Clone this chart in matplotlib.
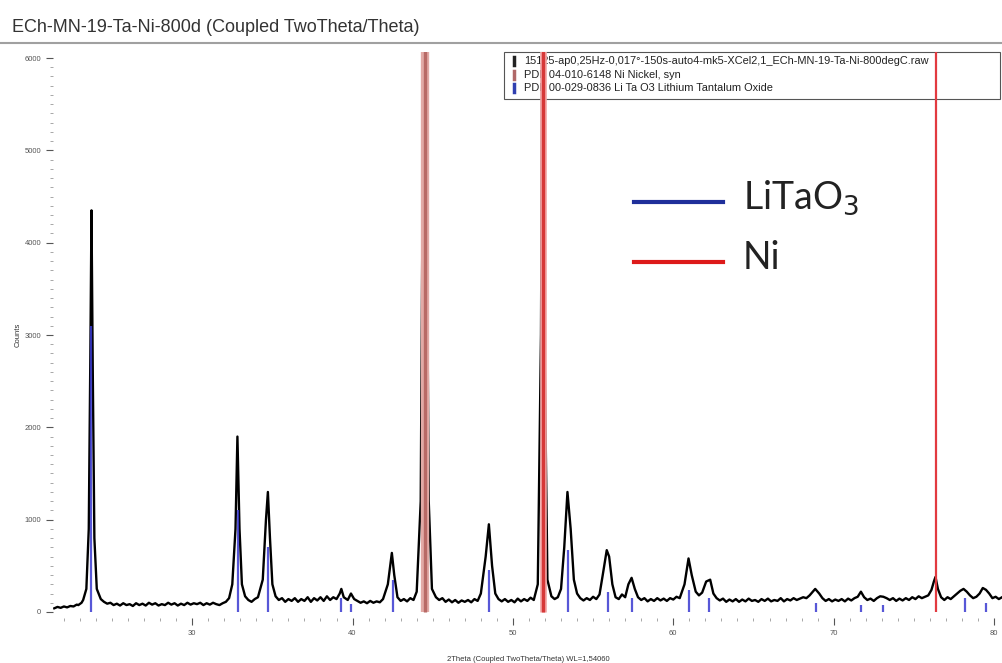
import matplotlib
matplotlib.use("Agg")
import matplotlib.pyplot as plt
from matplotlib.patches import Rectangle
from matplotlib.ticker import MultipleLocator

two_theta = [21.4, 21.6, 21.8, 22.0, 22.2, 22.4, 22.6, 22.8, 22.9, 23.1, 23.2, 23.4, 23.55, 23.65, 23.72,
             23.8, 23.9, 24.05, 24.3, 24.5, 24.7, 24.9, 25.1, 25.3, 25.5, 25.7, 25.9, 26.1, 26.3,
             26.5, 26.7, 26.9, 27.1, 27.3, 27.5, 27.7, 27.9, 28.1, 28.3, 28.5, 28.7, 28.9, 29.1,
             29.3, 29.5, 29.7, 29.9, 30.1, 30.3, 30.5, 30.7, 30.9, 31.1, 31.3, 31.5, 31.7, 31.9,
             32.1, 32.3, 32.5, 32.7, 32.82, 32.95, 33.1, 33.3, 33.5, 33.7, 33.9, 34.1, 34.4,
             34.6, 34.72, 34.85, 35.0, 35.2, 35.4, 35.6, 35.8, 36.0, 36.2, 36.4, 36.6, 36.8,
             37.0, 37.2, 37.4, 37.6, 37.8, 38.0, 38.2, 38.4, 38.6, 38.8, 39.0, 39.2, 39.3,
             39.45, 39.7, 39.9, 40.1, 40.3, 40.5, 40.7, 40.9, 41.1, 41.3, 41.5, 41.7, 41.9,
             42.2, 42.45, 42.6, 42.8, 43.0, 43.2, 43.4, 43.6, 43.8, 44.0, 44.25, 44.4, 44.5,
             44.6, 44.75, 44.95, 45.2, 45.4, 45.6, 45.8, 46.0, 46.2, 46.4, 46.6, 46.8, 47.0,
             47.2, 47.4, 47.6, 47.8, 48.0, 48.3, 48.5, 48.7, 48.9, 49.1, 49.3, 49.5, 49.7,
             49.9, 50.1, 50.3, 50.5, 50.7, 50.9, 51.1, 51.3, 51.55, 51.75, 51.85, 51.95, 52.15,
             52.4, 52.6, 52.8, 53.0, 53.2, 53.4, 53.6, 53.8, 54.0, 54.2, 54.4, 54.6, 54.8,
             55.0, 55.2, 55.4, 55.6, 55.85, 56.0, 56.2, 56.4, 56.6, 56.8, 57.0, 57.2, 57.4,
             57.6, 57.8, 58.0, 58.2, 58.4, 58.6, 58.8, 59.0, 59.2, 59.4, 59.6, 59.8, 60.0,
             60.2, 60.4, 60.7, 60.95, 61.15, 61.4, 61.6, 61.8, 62.05, 62.3, 62.5, 62.7, 62.9,
             63.1, 63.3, 63.5, 63.7, 63.9, 64.1, 64.3, 64.5, 64.7, 64.9, 65.1, 65.3, 65.5,
             65.7, 65.9, 66.1, 66.3, 66.5, 66.7, 66.9, 67.1, 67.3, 67.5, 67.7, 67.9, 68.1,
             68.3, 68.5, 68.85, 69.1, 69.3, 69.5, 69.7, 69.9, 70.1, 70.3, 70.5, 70.7, 70.9,
             71.1, 71.3, 71.5, 71.7, 71.9, 72.1, 72.3, 72.5, 72.7, 72.9, 73.1, 73.3, 73.5,
             73.7, 73.9, 74.1, 74.3, 74.5, 74.7, 74.9, 75.1, 75.3, 75.5, 75.7, 75.9, 76.1,
             76.25, 76.35, 76.5, 76.7, 76.9, 77.1, 77.3, 77.5, 77.7, 77.9, 78.1, 78.3, 78.5,
             78.7, 78.9, 79.1, 79.3, 79.5, 79.7, 79.9, 80.1, 80.3, 80.5]
counts = [40, 55, 45, 60, 50, 65, 60, 80, 75, 100, 130, 250, 900, 2800, 4350,
          2600, 800, 250, 140, 110, 90, 100, 75, 90, 70, 95, 75, 85, 65,
          95, 75, 90, 70, 100, 80, 95, 70, 85, 75, 100, 80, 95, 70,
          90, 75, 100, 80, 95, 85, 100, 75, 95, 80, 100, 85, 75, 95,
          110, 150, 300, 900, 1900, 900, 300, 170, 130, 110, 140, 160, 350,
          1000, 1300, 800, 300, 170, 130, 150, 110, 140, 120, 150, 110, 140,
          120, 160, 110, 150, 125, 160, 120, 170, 130, 160, 140, 200, 250,
          160, 130, 200, 140, 120, 100, 115, 95, 120, 100, 115, 105, 140,
          300, 640, 400, 160, 120, 140, 115, 150, 130, 220, 1200, 5500, 7000,
          5000, 1200, 250, 160, 130, 150, 110, 135, 105, 130, 100, 125, 110,
          130, 105, 140, 120, 200, 600, 950, 500, 200, 140, 115, 140, 110,
          130, 105, 145, 115, 140, 120, 155, 130, 300, 3000, 7000, 3200, 350,
          170, 140, 160, 250, 700, 1300, 900, 350, 200, 150, 125, 150, 130,
          165, 140, 190, 400, 670, 600, 300, 160, 140, 190, 160, 300, 370,
          250, 160, 130, 150, 115, 140, 120, 150, 125, 145, 120, 150, 135,
          165, 150, 300, 580, 400, 220, 180, 210, 330, 350, 200, 150, 125,
          145, 110, 135, 115, 140, 110, 135, 115, 145, 120, 130, 110, 140,
          120, 145, 115, 130, 120, 150, 115, 140, 125, 150, 130, 145, 160,
          150, 180, 250, 200, 150, 120, 140, 115, 135, 120, 140, 115, 145,
          125, 150, 165, 220, 160, 130, 145, 120, 150, 170, 165, 150, 130,
          150, 120, 145, 125, 150, 130, 160, 140, 170, 150, 165, 180, 240,
          330, 380, 250, 160, 130, 160, 140, 170, 200, 230, 250, 220, 180,
          150, 165, 200, 260, 240, 200, 150, 165, 140, 160]

# Referenzlinien
litao3_pos = [23.7, 32.85, 34.72, 39.3, 39.9, 42.5, 48.5, 53.45, 55.9, 57.4, 61.0, 62.2, 68.9, 71.7, 73.1, 78.2, 79.5]
litao3_int = [3100, 1100, 700, 150, 90, 350, 450, 670, 220, 150, 240, 150, 100, 80, 80, 150, 100]
ni_pos = [44.5, 51.85, 76.37]
ni_int = [6200, 6200, 6200]

legend_texts = ["15125-ap0,25Hz-0,017°-150s-auto4-mk5-XCel2,1_ECh-MN-19-Ta-Ni-800degC.raw",
                "PDF 04-010-6148 Ni Nickel, syn",
                "PDF 00-029-0836 Li Ta O3 Lithium Tantalum Oxide"]

plt.rcParams['font.family'] = ['Liberation Sans', 'DejaVu Sans']

W, H = 1003, 663
fig = plt.figure(figsize=(W / 100, H / 100), dpi=100)
ax = fig.add_axes([53 / W, 45 / H, 950 / W, 566 / H])
ax.patch.set_visible(False)

# Legendenkasten (hinter den Linien)
fig.add_artist(Rectangle((504 / W, 1 - 99 / H), 496 / W, 47 / H, facecolor='white',
                         edgecolor='#555555', lw=0.8, zorder=-2))
marker_colors = ['#222222', '#b06868', '#3040b0']
for i, t in enumerate(legend_texts):
    yy = 1 - (61 + 13.5 * i) / H
    fig.add_artist(plt.Line2D([514 / W, 514 / W], [yy - 4 / H, yy + 4 / H], color=marker_colors[i],
                              lw=2.5, zorder=-1))
    fig.text(524 / W, yy, t, fontsize=7.9, color='#222222', va='center', ha='left', zorder=-1)

ax.plot(two_theta, counts, color='black', lw=1.7, zorder=2)
ax.vlines(litao3_pos, 0, litao3_int, color='#3a3ad0', lw=1.6, alpha=0.85, zorder=3)

# Ni Linien (breit, hell + Kern)
ax.vlines(ni_pos[0], 0, ni_int[0], color='#e2aaa6', lw=6, zorder=4)
ax.vlines(ni_pos[0], 0, ni_int[0], color='#b86a66', lw=2.4, zorder=5)
ax.vlines(ni_pos[1], 0, ni_int[1], color='#f2a6a6', lw=4.8, zorder=4)
ax.vlines(ni_pos[1], 0, ni_int[1], color='#d63838', lw=2.4, zorder=5)
ax.vlines(ni_pos[2], 0, ni_int[2], color='#e23a40', lw=1.6, zorder=5)

ax.set_xlim(21.32, 80.56)
ax.set_ylim(-65, 6065)
for s in ax.spines.values():
    s.set_visible(False)
ax.xaxis.set_minor_locator(MultipleLocator(1))
ax.yaxis.set_minor_locator(MultipleLocator(100))
ax.set_xticks([30, 40, 50, 60, 70, 80])
ax.set_yticks([0, 1000, 2000, 3000, 4000, 5000, 6000])
ax.tick_params(axis='both', which='major', labelsize=5.5, colors='#555555', length=5, width=0.8)
ax.tick_params(axis='both', which='minor', colors='#999999', length=2, width=0.6)
ax.set_ylabel('Counts', fontsize=5.5, color='#333333', labelpad=2)
ax.set_xlabel('2Theta (Coupled TwoTheta/Theta) WL=1,54060', fontsize=5.5, color='#333333', labelpad=14)

# Titel und Trennlinie
fig.text(12 / W, 1 - 28 / H, 'ECh-MN-19-Ta-Ni-800d (Coupled TwoTheta/Theta)', fontsize=13,
         color='#333333', va='center', ha='left')
fig.add_artist(plt.Line2D([0, 1], [1 - 43 / H, 1 - 43 / H], color='#a0a0a0', lw=1.5))

# Annotation
fig.add_artist(plt.Line2D([634 / W, 723 / W], [1 - 202 / H, 1 - 202 / H], color='#1f2f9a', lw=3))
fig.add_artist(plt.Line2D([634 / W, 723 / W], [1 - 262 / H, 1 - 262 / H], color='#dd1a1a', lw=3))
fig.text(743 / W, 1 - 198 / H, 'LiTaO$_3$', fontsize=27, family=['Lato', 'DejaVu Sans'],
         color='#222222', va='center', ha='left')
fig.text(743 / W, 1 - 258 / H, 'Ni', fontsize=27, family=['Lato', 'DejaVu Sans'],
         color='#222222', va='center', ha='left')

fig.savefig('out.png', dpi=100)
